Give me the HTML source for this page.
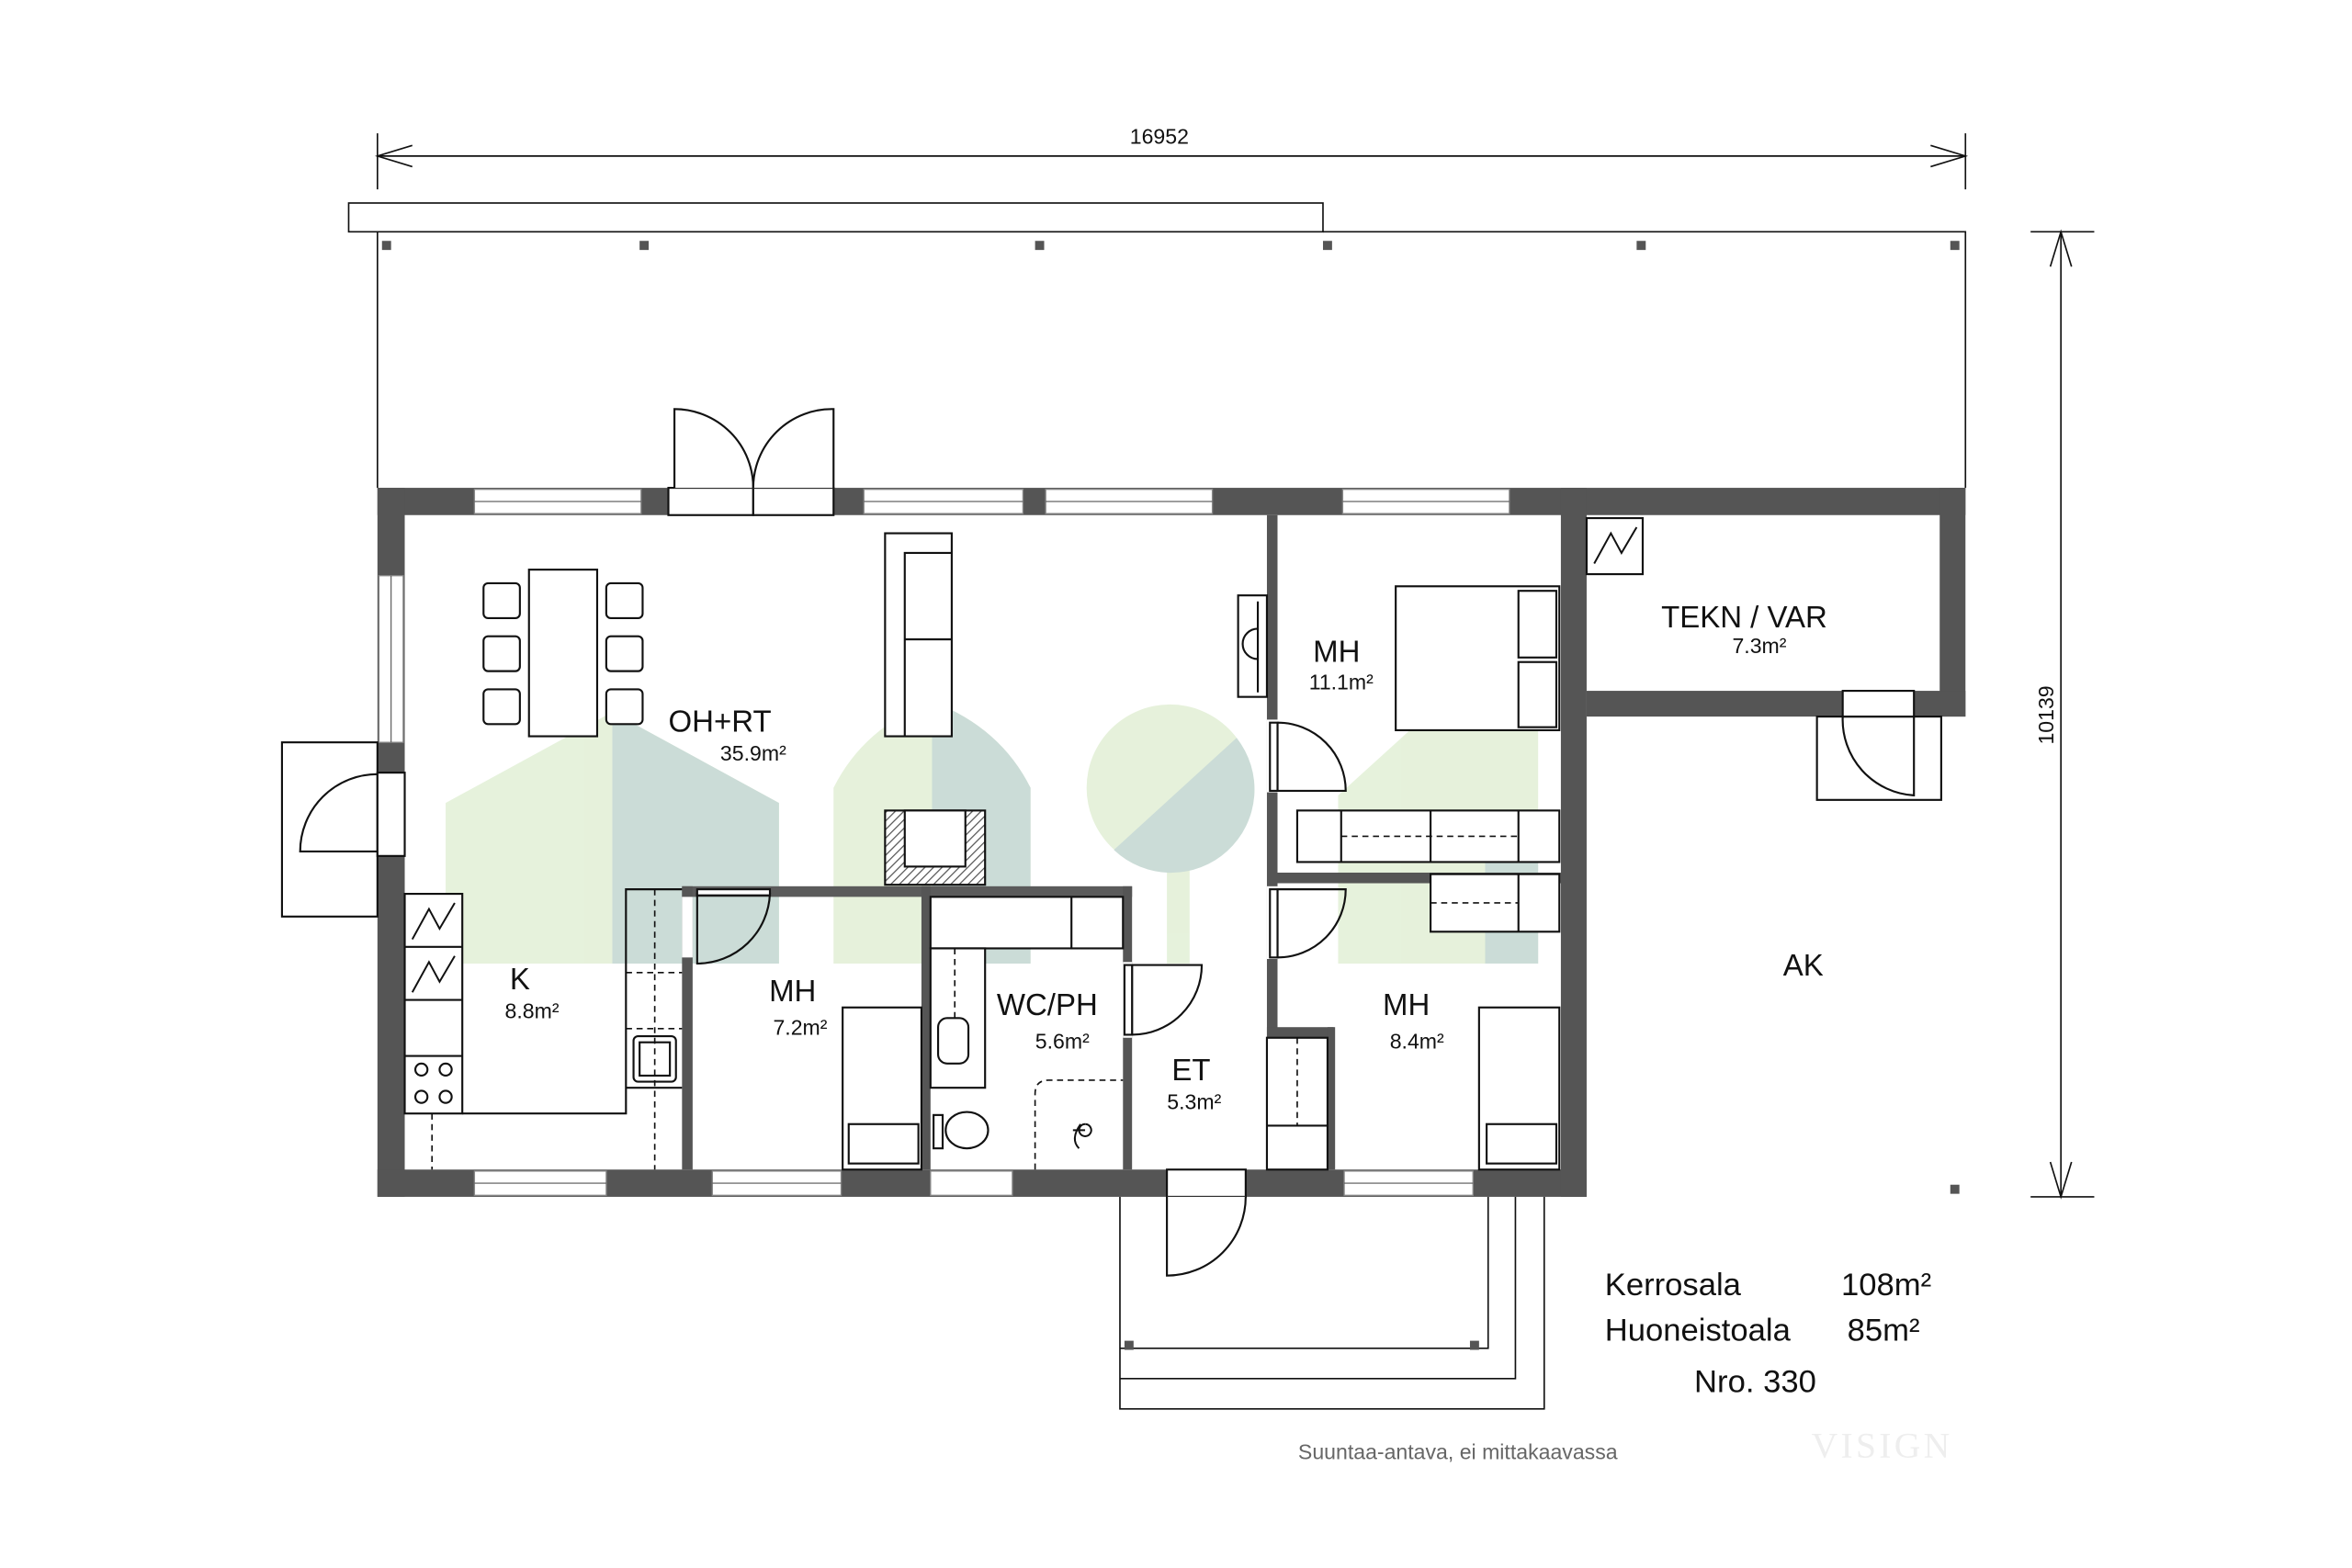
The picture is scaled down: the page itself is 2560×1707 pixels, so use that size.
<!DOCTYPE html>
<html><head><meta charset="utf-8"><style>
html,body{margin:0;padding:0;background:#fff}
svg{display:block}
text{font-family:"Liberation Sans",sans-serif;fill:#111}
</style></head><body>
<svg width="2560" height="1707" viewBox="0 0 1552 1035" xmlns="http://www.w3.org/2000/svg">
<defs>
<pattern id="h" width="4" height="4" patternUnits="userSpaceOnUse" patternTransform="rotate(45)">
<rect width="4" height="4" fill="#fff"/><line x1="0" y1="0" x2="0" y2="4" stroke="#555" stroke-width="1.5"/></pattern>
</defs>
<!-- dimension top -->
<g stroke="#111" stroke-width="1" fill="none">
<line x1="249" y1="88" x2="249" y2="125"/><line x1="1297" y1="88" x2="1297" y2="125"/>
<line x1="249" y1="103" x2="1297" y2="103"/>
<polyline points="272,96 249,103 272,110"/><polyline points="1274,96 1297,103 1274,110"/>
<!-- right dim -->
<line x1="1340" y1="153" x2="1382" y2="153"/><line x1="1340" y1="790" x2="1382" y2="790"/>
<line x1="1360" y1="153" x2="1360" y2="790"/>
<polyline points="1353,176 1360,153 1367,176"/><polyline points="1353,767 1360,790 1367,767"/>
<!-- canopy -->
<rect x="230" y="134" width="643" height="19"/>
<polyline points="249,153 249,322"/><polyline points="873,153 1297,153 1297,322"/>
<!-- porch -->
<polyline points="739,790 739,930 1019,930 1019,790"/>
<polyline points="739,910 1000,910 1000,790"/>
<polyline points="739,890 982,890 982,790"/>
</g>
<text x="765" y="95" font-size="14" text-anchor="middle">16952</text>
<text transform="translate(1355,472) rotate(-90)" font-size="14" text-anchor="middle">10139</text>
<g fill="#555">
<rect x="252" y="159" width="6" height="6"/><rect x="422" y="159" width="6" height="6"/><rect x="683" y="159" width="6" height="6"/>
<rect x="873" y="159" width="6" height="6"/><rect x="1080" y="159" width="6" height="6"/><rect x="1287" y="159" width="6" height="6"/>
<rect x="1287" y="782" width="6" height="6"/><rect x="742" y="885" width="6" height="6"/><rect x="970" y="885" width="6" height="6"/>
</g>

<!-- logo overlays -->
<g opacity="0.95">
<polygon points="294,530 404,470 514,530 514,636 294,636" fill="#e5f1da"/>
<polygon points="404,470 514,530 514,636 404,636" fill="#c9dbd5"/>
<path d="M550,636 L550,520 Q570,480 615,463 Q660,480 680,520 L680,636 Z" fill="#e5f1da"/>
<path d="M615,463 Q660,480 680,520 L680,636 L615,636 Z" fill="#c9dbd5"/>
<rect x="770" y="560" width="15" height="76" fill="#e5f1da"/>
<circle cx="772" cy="520" r="55" fill="#e5f1da"/>
<path d="M816,487 A55,55 0 0,1 735,561 Z" fill="#c9dbd5"/>
<polygon points="883,525 1015,405 1015,636 883,636" fill="#e5f1da"/>
<rect x="980" y="540" width="35" height="96" fill="#c9dbd5"/>
</g>

<!-- walls -->
<g fill="#555">
<rect x="249" y="322" width="1048" height="18"/>
<rect x="249" y="322" width="18" height="468"/>
<rect x="249" y="772" width="798" height="18"/>
<rect x="1030" y="322" width="17" height="468"/>
<rect x="1280" y="322" width="17" height="151"/>
<rect x="1047" y="456" width="250" height="17"/>
<rect x="836" y="340" width="7" height="432"/>
<rect x="843" y="576" width="187" height="7"/>
<rect x="450" y="585" width="297" height="7" fill="#5b5b5b"/>
<rect x="450" y="585" width="7" height="187"/>
<rect x="608" y="585" width="6" height="187"/>
<rect x="741" y="585" width="6" height="187"/>
<rect x="836" y="678" width="44" height="7"/><rect x="876" y="678" width="5" height="94"/>
</g>
<!-- openings in walls -->
<g fill="#fff" stroke="#888" stroke-width="0.8">
<rect x="313" y="323" width="110" height="16"/><rect x="570" y="323" width="105" height="16"/>
<rect x="690" y="323" width="110" height="16"/><rect x="886" y="323" width="110" height="16"/>
<rect x="313" y="773" width="87" height="16"/><rect x="470" y="773" width="85" height="16"/>
<rect x="614" y="773" width="54" height="16"/><rect x="887" y="773" width="85" height="16"/>
<rect x="250" y="380" width="16" height="110"/>
</g>
<g fill="#fff">
<rect x="836" y="475" width="7" height="48"/><rect x="836" y="585" width="7" height="48"/>
<rect x="741" y="635" width="6" height="50"/><rect x="450" y="592" width="7" height="40"/>
<rect x="1047" y="335" width="0" height="0"/>
</g>
<g fill="none" stroke="#555" stroke-width="0.7">
<line x1="313" y1="331" x2="423" y2="331"/><line x1="570" y1="331" x2="675" y2="331"/>
<line x1="690" y1="331" x2="800" y2="331"/><line x1="886" y1="331" x2="996" y2="331"/>
<line x1="313" y1="781" x2="400" y2="781"/><line x1="470" y1="781" x2="555" y2="781"/>
<line x1="887" y1="781" x2="972" y2="781"/><line x1="258" y1="380" x2="258" y2="490"/>
</g>

<g fill="#fff" stroke="#111" stroke-width="1.3">
<!-- doors -->
<rect x="441" y="322" width="56" height="18"/><rect x="497" y="322" width="53" height="18"/>
<path d="M445,322 L445,270 A52,52 0 0,1 497,322" /><path d="M550,322 L550,270 A52,52 0 0,0 497,322"/>
<rect x="770" y="772" width="52" height="18"/>
<path d="M770,790 L770,842 A52,52 0 0,0 822,790" />
<rect x="1216" y="456" width="47" height="17"/><rect x="1199" y="473" width="82" height="55" fill="none"/>
<path d="M1263,473 L1263,525 A50,50 0 0,1 1216,473" fill="none"/>
<rect x="186" y="490" width="63" height="115" fill="none"/>
<rect x="249" y="510" width="18" height="55"/>
<path d="M249,562 L198,562 A51,51 0 0,1 249,511" fill="none"/>
<path d="M843,477 L843,522 L888,522 A45,45 0 0,0 843,477" fill="none"/><rect x="838" y="477" width="5" height="45"/>
<path d="M843,587 L843,632 A45,45 0 0,0 888,587 Z" fill="none"/><rect x="838" y="587" width="5" height="45"/>
<path d="M747,637 L747,683 A46,46 0 0,0 793,637 Z" fill="none"/><rect x="742" y="637" width="5" height="46"/>
<path d="M460,590 L460,636 A48,48 0 0,0 508,590 Z" fill="none"/><rect x="460" y="587" width="48" height="4"/>
<!-- dining -->
<rect x="349" y="376" width="45" height="110"/>
<rect x="319" y="385" width="24" height="23" rx="3"/><rect x="319" y="420" width="24" height="23" rx="3"/><rect x="319" y="455" width="24" height="23" rx="3"/>
<rect x="400" y="385" width="24" height="23" rx="3"/><rect x="400" y="420" width="24" height="23" rx="3"/><rect x="400" y="455" width="24" height="23" rx="3"/>
<!-- sofa -->
<rect x="584" y="352" width="44" height="134"/><polyline points="597,486 597,365 628,365" fill="none"/><line x1="597" y1="422" x2="628" y2="422"/>
<!-- fireplace -->
<rect x="584" y="535" width="66" height="49" fill="url(#h)"/><rect x="597" y="535" width="40" height="37"/>
<!-- tv -->
<rect x="817" y="393" width="19" height="67"/><line x1="830" y1="397" x2="830" y2="457"/><path d="M830,415 A10,10 0 0,0 830,435" fill="none"/>
<!-- bed 11.1 -->
<rect x="921" y="387" width="108" height="95"/><rect x="1002" y="390" width="25" height="44"/><rect x="1002" y="437" width="25" height="43"/>
<!-- wardrobes -->
<rect x="856" y="535" width="173" height="34"/><line x1="885" y1="535" x2="885" y2="569"/><line x1="944" y1="535" x2="944" y2="569"/><line x1="1002" y1="535" x2="1002" y2="569"/>
<rect x="944" y="577" width="85" height="38"/><line x1="1002" y1="577" x2="1002" y2="615"/>
<!-- bed 8.4 -->
<rect x="976" y="665" width="53" height="107"/><rect x="981" y="742" width="46" height="26"/>
<!-- closet ET -->
<rect x="836" y="685" width="40" height="87"/><line x1="836" y1="743" x2="876" y2="743"/>
<!-- bed 7.2 -->
<rect x="556" y="665" width="52" height="107"/><rect x="560" y="742" width="46" height="26"/>
<!-- WC -->
<rect x="614" y="592" width="127" height="34"/><line x1="707" y1="592" x2="707" y2="626"/>
<rect x="614" y="626" width="36" height="92"/><rect x="619" y="672" width="20" height="30" rx="6"/>
<ellipse cx="638" cy="746" rx="14" ry="12"/><rect x="616" y="736" width="6" height="22"/>
<!-- kitchen -->
<rect x="267" y="590" width="38" height="145"/><line x1="267" y1="625" x2="305" y2="625"/><line x1="267" y1="660" x2="305" y2="660"/><line x1="267" y1="697" x2="305" y2="697"/>
<circle cx="278" cy="706" r="4"/><circle cx="294" cy="706" r="4"/><circle cx="278" cy="724" r="4"/><circle cx="294" cy="724" r="4"/>
<polyline points="305,735 413,735 413,587 450,587" fill="none"/>
<line x1="413" y1="718" x2="450" y2="718"/>
<rect x="418" y="684" width="28" height="30" rx="3"/><rect x="422" y="688" width="20" height="22"/>
<rect x="1047" y="342" width="37" height="37"/>
</g>
<g fill="none" stroke="#111" stroke-width="1" stroke-dasharray="4,3">
<line x1="885" y1="552" x2="1002" y2="552"/><line x1="944" y1="596" x2="1002" y2="596"/>
<line x1="856" y1="685" x2="856" y2="743"/>
<line x1="285" y1="735" x2="285" y2="772"/><line x1="432" y1="587" x2="432" y2="772"/>
<line x1="413" y1="642" x2="450" y2="642"/><line x1="413" y1="679" x2="450" y2="679"/>
<line x1="630" y1="626" x2="630" y2="672"/>
<path d="M683,772 L683,722 Q683,713 692,713 L741,713"/>
<line x1="707" y1="626" x2="741" y2="626"/>
</g>
<g fill="none" stroke="#111" stroke-width="1.2">
<polyline points="272,620 283,600 290,613 300,596"/><polyline points="272,655 283,635 290,648 300,631"/>
<polyline points="1052,372 1063,352 1070,365 1080,348"/>
<path d="M713,742 Q706,752 712,758 M708,746 L716,746 M716,742 a4,4 0 1 0 0.1,0"/>
</g>

<text x="475" y="483" font-size="20" text-anchor="middle">OH+RT</text>
<text x="497" y="502" font-size="14" text-anchor="middle">35.9m²</text>
<text x="343" y="653" font-size="20" text-anchor="middle">K</text>
<text x="351" y="672" font-size="14" text-anchor="middle">8.8m²</text>
<text x="523" y="661" font-size="20" text-anchor="middle">MH</text>
<text x="528" y="683" font-size="14" text-anchor="middle">7.2m²</text>
<text x="691" y="670" font-size="20" text-anchor="middle">WC/PH</text>
<text x="701" y="692" font-size="14" text-anchor="middle">5.6m²</text>
<text x="786" y="713" font-size="20" text-anchor="middle">ET</text>
<text x="788" y="732" font-size="14" text-anchor="middle">5.3m²</text>
<text x="882" y="437" font-size="20" text-anchor="middle">MH</text>
<text x="885" y="455" font-size="14" text-anchor="middle">11.1m²</text>
<text x="928" y="670" font-size="20" text-anchor="middle">MH</text>
<text x="935" y="692" font-size="14" text-anchor="middle">8.4m²</text>
<text x="1151" y="414" font-size="20" text-anchor="middle">TEKN / VAR</text>
<text x="1161" y="431" font-size="14" text-anchor="middle">7.3m²</text>
<text x="1190" y="644" font-size="20" text-anchor="middle">AK</text>
<text x="1059" y="855" font-size="21">Kerrosala</text>
<text x="1215" y="855" font-size="21">108m²</text>
<text x="1059" y="885" font-size="21">Huoneistoala</text>
<text x="1219" y="885" font-size="21">85m²</text>
<text x="1118" y="919" font-size="21">Nro. 330</text>
<text x="962" y="963" font-size="14" text-anchor="middle" style="fill:#666">Suuntaa-antava, ei mittakaavassa</text>
<text x="1242" y="962" font-size="24" text-anchor="middle" style="fill:#eee;font-family:'Liberation Serif',serif;letter-spacing:2px">VISIGN</text>
</svg>
</body></html>
